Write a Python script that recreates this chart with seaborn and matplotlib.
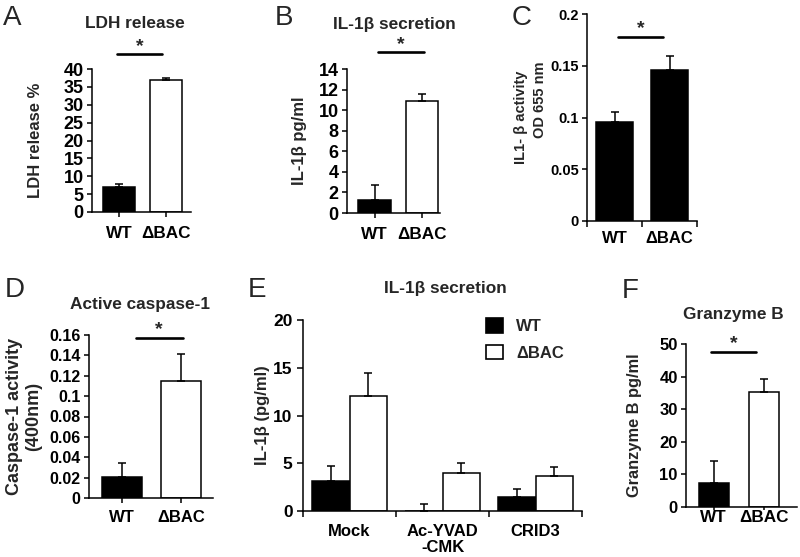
import numpy as np
import pandas as pd
import matplotlib
matplotlib.use('Agg')
import matplotlib.pyplot as plt
import seaborn as sns
from matplotlib.patches import Patch
from matplotlib.ticker import FormatStrFormatter, FixedLocator

# values
strains = ['WT', 'ΔBAC']

ldh = [7.0, 36.8]
ldh_err = [0.8, 0.6]

il1b = [1.3, 10.9]
il1b_err = [1.4, 0.7]

il1b_act = [0.096, 0.146]
il1b_act_err = [0.009, 0.013]

casp1 = [0.021, 0.115]
casp1_err = [0.013, 0.026]

treatments = ['Mock', 'Ac-YVAD\n-CMK', 'CRID3']
il1b_wt = [3.1, 0.0, 1.5]
il1b_wt_err = [1.6, 0.7, 0.8]
il1b_bac = [12.0, 4.0, 3.7]
il1b_bac_err = [2.4, 1.0, 0.9]

gzmb = [7.5, 35.3]
gzmb_err = [6.5, 4.0]

sns.set_style('ticks')
plt.rcParams['font.family'] = ['Liberation Sans', 'DejaVu Sans']
plt.rcParams['font.weight'] = 'bold'
plt.rcParams['axes.labelweight'] = 'bold'

W, H = 800, 557
fig = plt.figure(figsize=(8, 5.57), dpi=100)


def box(left, right, top, bottom):
    # pixel box -> figure fraction
    return [left / W, 1 - bottom / H, (right - left) / W, (bottom - top) / H]


def px(x, y):
    return x / W, 1 - y / H


def style_axis(ax, xlim, ylim, yticks, ytick_size, xtick_size, xpad):
    ax.set_xlim(*xlim)
    ax.set_ylim(*ylim)
    ax.set_yticks(yticks)
    ax.yaxis.set_major_formatter(FormatStrFormatter('%g'))
    sns.despine(ax=ax)
    for s in ['left', 'bottom']:
        ax.spines[s].set_linewidth(1.1)
        ax.spines[s].set_color('black')
    ax.tick_params(axis='both', direction='out', length=3.5, width=1.1, colors='black')
    ax.tick_params(axis='y', labelsize=ytick_size, pad=2.5)
    ax.tick_params(axis='x', labelsize=xtick_size, pad=xpad)
    for lab in ax.get_xticklabels() + ax.get_yticklabels():
        lab.set_fontweight('bold')
    ax.set_xlabel('')
    ax.set_ylabel('')


def two_bar(ax, vals, errs, colors, width):
    sns.barplot(x=strains, y=vals, hue=strains, palette=dict(zip(strains, colors)),
                width=width, edgecolor='black', linewidth=1.1, saturation=1,
                legend=False, ax=ax)
    ax.errorbar(range(len(vals)), vals, yerr=[np.zeros(len(vals)), errs], fmt='none',
                ecolor='black', elinewidth=1.1, capsize=3, capthick=1.1)


def sig(ax, x0, x1, y, ys):
    tr = ax.get_xaxis_transform()
    ax.plot([x0, x1], [y, y], color='black', lw=1.9, transform=tr, clip_on=False)
    ax.text((x0 + x1) / 2, ys, '*', transform=tr, ha='center', va='center',
            fontsize=14, fontweight='bold')


def boundary_ticks(ax, n):
    ax.xaxis.set_minor_locator(FixedLocator(np.arange(n + 1) - 0.5))
    ax.tick_params(axis='x', which='major', length=0)
    ax.tick_params(axis='x', which='minor', direction='out', length=4, width=1.1, colors='black')


# A
axA = fig.add_axes(box(92, 191, 69, 212))
two_bar(axA, ldh, ldh_err, ['black', 'white'], 0.68)
style_axis(axA, (-0.57, 1.53), (0, 40), np.arange(0, 41, 5), 13, 12.3, 6.5)
axA.set_ylabel('LDH release %', fontsize=12)
axA.yaxis.set_label_coords(-0.495, 0.5)
sig(axA, -0.04, 0.91, 1.105, 1.16)

# B
axB = fig.add_axes(box(347, 440, 69, 213))
two_bar(axB, il1b, il1b_err, ['black', 'white'], 0.69)
style_axis(axB, (-0.58, 1.38), (0, 14), np.arange(0, 15, 2), 13, 12.3, 6.5)
axB.set_ylabel('IL-1β pg/ml', fontsize=12)
axB.yaxis.set_label_coords(-0.43, 0.5)
sig(axB, 0.07, 1.04, 1.118, 1.17)

# C
axC = fig.add_axes(box(587, 697, 14, 221))
two_bar(axC, il1b_act, il1b_act_err, ['black', 'black'], 0.67)
style_axis(axC, (-0.5, 1.5), (0, 0.2), np.arange(0, 0.201, 0.05), 10.5, 12, 7.5)
boundary_ticks(axC, 2)
sig(axC, 0.06, 0.89, 0.889, 0.93)
fig.text(*px(521, 117), 'IL1- β activity', rotation=90, ha='center', va='center', fontsize=10.5)
fig.text(*px(540, 100), 'OD 655 nm', rotation=90, ha='center', va='center', fontsize=10.5)

# D
axD = fig.add_axes(box(89, 213, 335, 498))
two_bar(axD, casp1, casp1_err, ['black', 'white'], 0.68)
style_axis(axD, (-0.57, 1.55), (0, 0.16), np.arange(0, 0.161, 0.02), 11.5, 12, 5)
axD.set_ylabel('Caspase-1 activity\n(400nm)', fontsize=13, linespacing=1.15)
axD.yaxis.set_label_coords(-0.38, 0.5)
sig(axD, 0.23, 1.03, 0.982, 1.035)

# E
axE = fig.add_axes(box(303, 582, 320, 511))
dfE = pd.DataFrame({
    'treatment': treatments * 2,
    'strain': ['WT'] * 3 + ['ΔBAC'] * 3,
    'value': il1b_wt + il1b_bac,
})
sns.barplot(data=dfE, x='treatment', y='value', hue='strain',
            palette={'WT': 'black', 'ΔBAC': 'white'}, width=0.8,
            edgecolor='black', linewidth=1.1, saturation=1, legend=False, ax=axE)
for cont, errs in zip(axE.containers, [il1b_wt_err, il1b_bac_err]):
    xs = [b.get_x() + b.get_width() / 2 for b in cont]
    ys = [b.get_height() for b in cont]
    axE.errorbar(xs, ys, yerr=[np.zeros(len(xs)), errs], fmt='none',
                 ecolor='black', elinewidth=1.1, capsize=3, capthick=1.1)
style_axis(axE, (-0.5, 2.5), (0, 20), np.arange(0, 21, 5), 12.5, 12, 9.5)
boundary_ticks(axE, 3)
axE.tick_params(axis='y', length=4.5, pad=3)
for lab in axE.get_xticklabels():
    lab.set_linespacing(1.1)
axE.set_ylabel('IL-1β (pg/ml)', fontsize=12)
axE.yaxis.set_label_coords(-0.118, 0.5)
handles = [Patch(facecolor='black', edgecolor='black', linewidth=1.2),
           Patch(facecolor='white', edgecolor='black', linewidth=1.2)]
fig.legend(handles, strains, loc='upper left', bbox_to_anchor=px(486, 318),
           frameon=False, borderpad=0, borderaxespad=0, handlelength=1.0,
           handleheight=1.0, handletextpad=0.8, labelspacing=0.62,
           prop={'size': 12, 'weight': 'bold'})

# F
axF = fig.add_axes(box(686, 797, 344, 507))
two_bar(axF, gzmb, gzmb_err, ['black', 'white'], 0.6)
style_axis(axF, (-0.55, 1.66), (0, 50), np.arange(0, 51, 10), 12, 12.3, 0.5)
axF.tick_params(axis='x', length=2)
axF.set_ylabel('Granzyme B pg/ml', fontsize=11.8)
axF.yaxis.set_label_coords(-0.4, 0.5)
sig(axF, -0.06, 0.85, 0.951, 1.0)

# titles
titles = [('LDH release', 135, 24), ('IL-1β secretion', 394, 25),
          ('Active caspase-1', 140, 304), ('IL-1β secretion', 445, 288),
          ('Granzyme B', 733, 314)]
for t, x, y in titles:
    fig.text(*px(x, y), t, ha='center', va='center', fontsize=12.4, fontweight='bold')

# panel letters
letters = [('A', 3, 18), ('B', 275, 18), ('C', 512, 18),
           ('D', 5, 290), ('E', 248, 290), ('F', 622, 291)]
for t, x, y in letters:
    fig.text(*px(x, y), t, ha='left', va='center', fontsize=20, fontweight='normal')

fig.savefig('out.png', dpi=100)
